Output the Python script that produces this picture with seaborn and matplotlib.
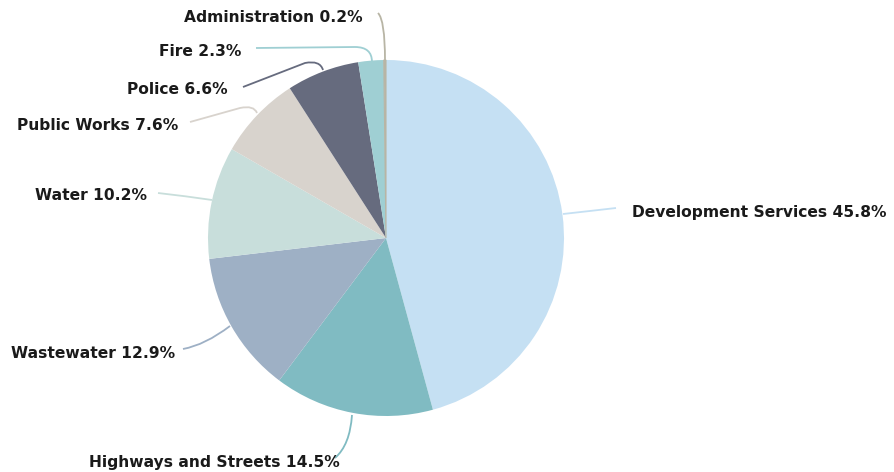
import matplotlib
matplotlib.use("Agg")
import matplotlib.pyplot as plt
import seaborn as sns
from matplotlib.path import Path
from matplotlib.patches import PathPatch

sns.set_style("white")
plt.rcParams['font.family'] = ['DejaVu Sans']

categories = ["Development Services", "Highways and Streets", "Wastewater", "Water",
              "Public Works", "Police", "Fire", "Administration"]
values = [45.8, 14.5, 12.9, 10.2, 7.6, 6.6, 2.3, 0.2]
colors = ["#C5E0F3", "#80BBC2", "#9EB0C5", "#C8DEDB",
          "#D8D3CD", "#666B7E", "#9FCFD3", "#B8B5A5"]

W, H = 894, 472
fig = plt.figure(figsize=(W / 100, H / 100), dpi=100)
ax = fig.add_axes([0, 0, 1, 1])

cx, cy, r = 386, H - 238, 178
wedges, _ = ax.pie(values, colors=colors, startangle=90, counterclock=False,
                   center=(cx, cy), radius=r, frame=True,
                   wedgeprops=dict(linewidth=0))
# make the tiny slice visible as in the reference
wedges[-1].set_edgecolor(colors[-1])
wedges[-1].set_linewidth(0.8)
ax.set_xlim(0, W)
ax.set_ylim(0, H)
ax.set_aspect("equal")
ax.axis("off")

def fy(y):
    return H - y

leaders = [
    [(563, 214), (590, 211), (616, 208)],
    [(352, 415), (350, 445), (335, 458)],
    [(230, 326), (205, 345), (183, 349)],
    [(212, 200), (185, 196), (158, 193)],
    [(257, 113), (254, 105), (240, 108), (190, 122)],
    [(323, 70), (320, 60), (305, 63), (243, 87)],
    [(372, 62), (372, 47), (355, 47), (256, 48)],
    [(385, 60), (385, 20), (378, 13)],
]
for pts, col in zip(leaders, colors):
    p = [(x, fy(y)) for x, y in pts]
    if len(p) == 3:
        codes = [Path.MOVETO, Path.CURVE3, Path.CURVE3]
    else:
        codes = [Path.MOVETO, Path.CURVE3, Path.CURVE3, Path.LINETO]
    ax.add_patch(PathPatch(Path(p, codes), facecolor="none", edgecolor=col, lw=1.3))

label_pos = [
    (632, 213, "left"),
    (340, 463, "right"),
    (175, 353, "right"),
    (147, 196, "right"),
    (178, 126, "right"),
    (228, 90, "right"),
    (241, 52, "right"),
    (363, 18, "right"),
]
for cat, v, (x, y, ha) in zip(categories, values, label_pos):
    ax.text(x, fy(y), f"{cat} {v}%", ha=ha, va="center", fontsize=11.2,
            fontweight="bold", color="#1a1a1a")

fig.savefig("out.png", dpi=100)
